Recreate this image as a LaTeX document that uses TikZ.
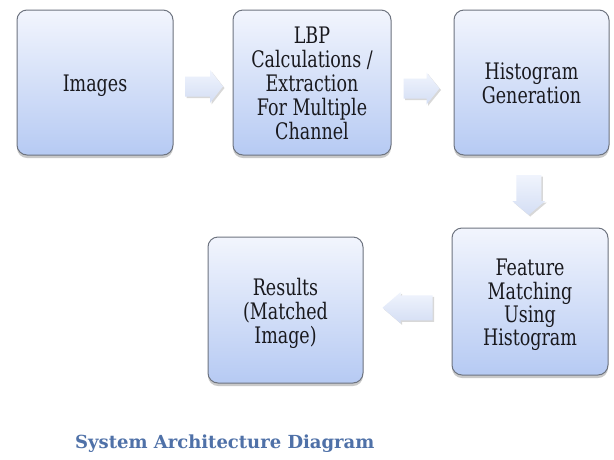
\documentclass[tikz,border=0pt]{standalone}
\usepackage{fontspec}
\usepackage{graphicx}
\setmainfont{DejaVu Serif}
\usetikzlibrary{shadows,calc}
\definecolor{boxtop}{RGB}{242,245,253}
\definecolor{boxbot}{RGB}{182,202,243}
\definecolor{boxline}{RGB}{110,116,128}
\definecolor{arrtop}{RGB}{240,244,253}
\definecolor{arrbot}{RGB}{212,222,244}
\definecolor{captioncol}{RGB}{79,113,168}
\definecolor{txt}{RGB}{25,25,30}
\newcommand{\stx}[1]{\raisebox{-4pt}[\height][\depth]{\scalebox{1}[1.3]{\begin{tabular}{@{}c@{}}#1\end{tabular}}}}
\begin{document}
\begin{tikzpicture}[x=1pt,y=-1pt,
  stage/.style={draw=boxline, line width=1pt, rounded corners=10pt,
    top color=boxtop, bottom color=boxbot, align=center, text=txt,
    font=\fontsize{17.5}{17}\selectfont, inner sep=0pt,
    drop shadow={shadow xshift=0pt, shadow yshift=-3pt, opacity=0.35, fill=black!60}},
  arrowstyle/.style={top color=arrtop, bottom color=arrbot,
    drop shadow={shadow xshift=1.5pt, shadow yshift=-1.5pt, opacity=0.25, fill=black!60}},
  pics/barrow/.style args={#1,#2,#3,#4}{code={
    \path[arrowstyle] ({-#1/2},{-#2/2}) -- ({#1/2-#4},{-#2/2}) -- ({#1/2-#4},{-#3/2})
      -- ({#1/2},0) -- ({#1/2-#4},{#3/2}) -- ({#1/2-#4},{#2/2}) -- ({-#1/2},{#2/2}) -- cycle;
  }}
]
\useasboundingbox (0,0) rectangle (614,459);
\fill[white] (0,0) rectangle (614,459);

\node[stage, minimum width=156pt, minimum height=145pt] (img) at (95,82.5) {\stx{Images}};
\node[stage, minimum width=158pt, minimum height=145pt] (lbp) at (312,82.5)
  {\stx{LBP\\Calculations /\\Extraction\\For Multiple\\Channel}};
\node[stage, minimum width=155pt, minimum height=145pt] (hist) at (531.5,82.5)
  {\stx{Histogram\\Generation}};
\node[stage, minimum width=156pt, minimum height=147pt] (feat) at (530,301.5)
  {\stx{Feature\\Matching\\Using\\Histogram}};
\node[stage, minimum width=155pt, minimum height=146pt] (res) at (285.5,310)
  {\stx{Results\\(Matched\\Image)}};

\coordinate (c1) at ($(img.east)!0.5!(lbp.west)+(1,4)$);
\coordinate (c2) at ($(lbp.east)!0.5!(hist.west)+(-1,6)$);
\coordinate (c3) at ($(hist.south)!0.5!(feat.north)+(-2,3.5)$);
\coordinate (c4) at ($(res.east)!0.5!(feat.west)+(0,2)$);

\pic at (c1) {barrow={38,20,33,13}};
\pic at (c2) {barrow={36,20,32,13}};
\pic[rotate=-90] at (c3) {barrow={40,25,33,14}};
\pic[rotate=180] at (c4) {barrow={50,25,31,18}};

\node[anchor=base west, text=captioncol, font=\bfseries\fontsize{18}{20}\selectfont,
  inner sep=0pt] (cap) at (75,448) {System Architecture Diagram};
\end{tikzpicture}
\end{document}
